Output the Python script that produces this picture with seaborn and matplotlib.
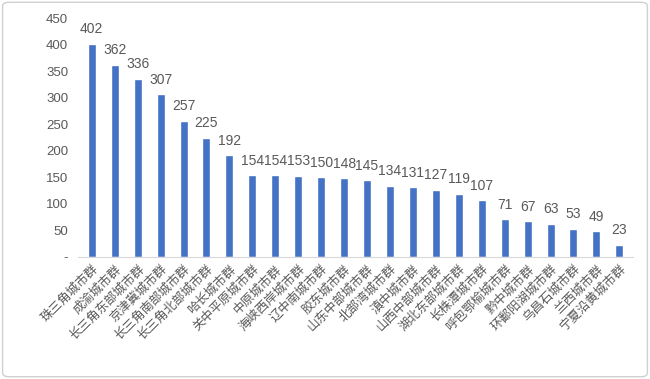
import matplotlib
matplotlib.use("Agg")
import matplotlib.pyplot as plt
import pandas as pd
import seaborn as sns
from matplotlib.patches import FancyBboxPatch

regions = [
    "珠三角城市群", "成渝城市群", "长三角东部城市群", "京津冀城市群",
    "长三角南部城市群", "长三角北部城市群", "哈长城市群", "关中平原城市群",
    "中原城市群", "海峡西岸城市群", "辽中南城市群", "胶东城市群",
    "山东中部城市群", "北部湾城市群", "滇中城市群", "山西中部城市群",
    "湖北东部城市群", "长株潭城市群", "呼包鄂榆城市群", "黔中城市群",
    "环鄱阳湖城市群", "乌昌石城市群", "兰西城市群", "宁夏沿黄城市群",
]
counts = [402, 362, 336, 307, 257, 225, 192, 154, 154, 153, 150, 148,
          145, 134, 131, 127, 119, 107, 71, 67, 63, 53, 49, 23]
y_ticks = [0, 50, 100, 150, 200, 250, 300, 350, 400, 450]
y_tick_labels = ["-"] + [str(v) for v in y_ticks[1:]]

sns.set_style("white")
plt.rcParams["font.family"] = ["Noto Sans CJK SC", "DejaVu Sans"]

text_color = "#595959"
bar_color = "#4472C4"
latin_font = ["Liberation Sans", "DejaVu Sans"]

df = pd.DataFrame({"region": regions, "count": counts})

fig = plt.figure(figsize=(6.5, 3.79), dpi=100)
# light rounded frame around the whole chart
frame = FancyBboxPatch((0.004, 0.006), 0.992, 0.988,
                       boxstyle="round,pad=0,rounding_size=0.01",
                       transform=fig.transFigure, facecolor="white",
                       edgecolor="#d0d0d0", linewidth=1, zorder=-10)
fig.patches.append(frame)
ax = fig.add_axes([0.12, 0.322, 0.854, 0.63])
ax.set_facecolor("none")

sns.barplot(data=df, x="region", y="count", color=bar_color, width=0.35,
            saturation=1, ax=ax)

for i, v in enumerate(counts):
    ax.annotate(str(v), (i, v), xytext=(0, 7.5), textcoords="offset points",
                ha="center", va="baseline", fontsize=10, color=text_color,
                family=latin_font)

ax.set_ylim(0, 450)
ax.set_yticks(y_ticks)
ax.set_yticklabels(y_tick_labels, fontsize=9.5, color=text_color,
                   family=latin_font)
ax.set_xticks(range(len(regions)))
ax.set_xticklabels(regions, rotation=45, ha="right", rotation_mode="anchor",
                   fontsize=9, color=text_color)
ax.tick_params(axis="y", length=0, pad=7)
ax.tick_params(axis="x", length=0, pad=4)
ax.set_xlabel("")
ax.set_ylabel("")
for side in ["top", "right", "left"]:
    ax.spines[side].set_visible(False)
ax.spines["bottom"].set_color("#d9d9d9")
ax.set_xlim(-0.6, len(regions) - 0.4)

fig.savefig("out.png", dpi=100)
